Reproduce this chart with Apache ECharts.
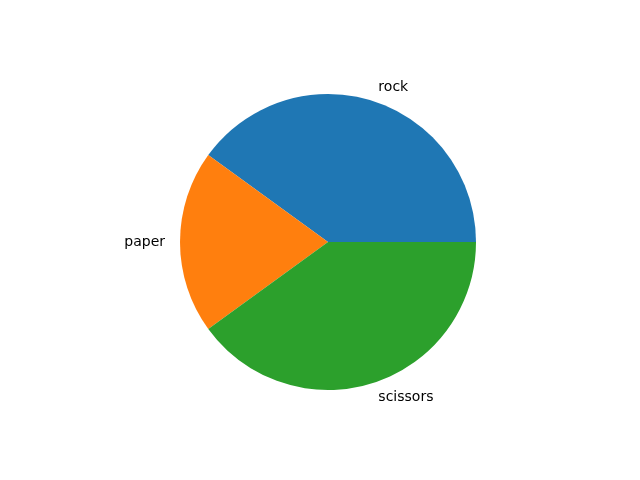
<!DOCTYPE html>
<html>
<head>
<meta charset="utf-8">
<script src="https://cdn.jsdelivr.net/npm/echarts@6/dist/echarts.min.js"></script>
<style>
  html, body { margin: 0; padding: 0; background: #fff; }
  #main { width: 640px; height: 480px; }
</style>
</head>
<body>
<div id="main"></div>
<script>
// 饼图数据
var labels = ['rock', 'paper', 'scissors'];
var sizes = [40, 20, 40];
var colors = ['#1f77b4', '#ff7f0e', '#2ca02c'];

var chart = echarts.init(document.getElementById('main'), null, { renderer: 'canvas' });

var pieData = [];
for (var i = 0; i < labels.length; i++) {
    pieData.push({ name: labels[i], value: sizes[i], itemStyle: { color: colors[i] } });
}

chart.setOption({
    backgroundColor: '#ffffff',
    animation: false,
    series: [{
        type: 'pie',
        center: [328, 242],
        radius: [0, 148],
        startAngle: 0,
        clockwise: false,
        avoidLabelOverlap: false,
        itemStyle: { borderWidth: 0 },
        label: {
            show: true,
            position: 'outside',
            color: '#000',
            fontFamily: 'DejaVu Sans',
            fontSize: 14,
            formatter: '{b}'
        },
        labelLine: { show: false, length: 15, length2: 0 },
        // 标签贴近饼的外沿，去掉默认的 5px 间距
        labelLayout: function (params) {
            var shift = params.labelRect.x > 328 ? -5 : 5;
            return { dx: shift };
        },
        emphasis: { disabled: true },
        data: pieData
    }]
});
</script>
</body>
</html>
